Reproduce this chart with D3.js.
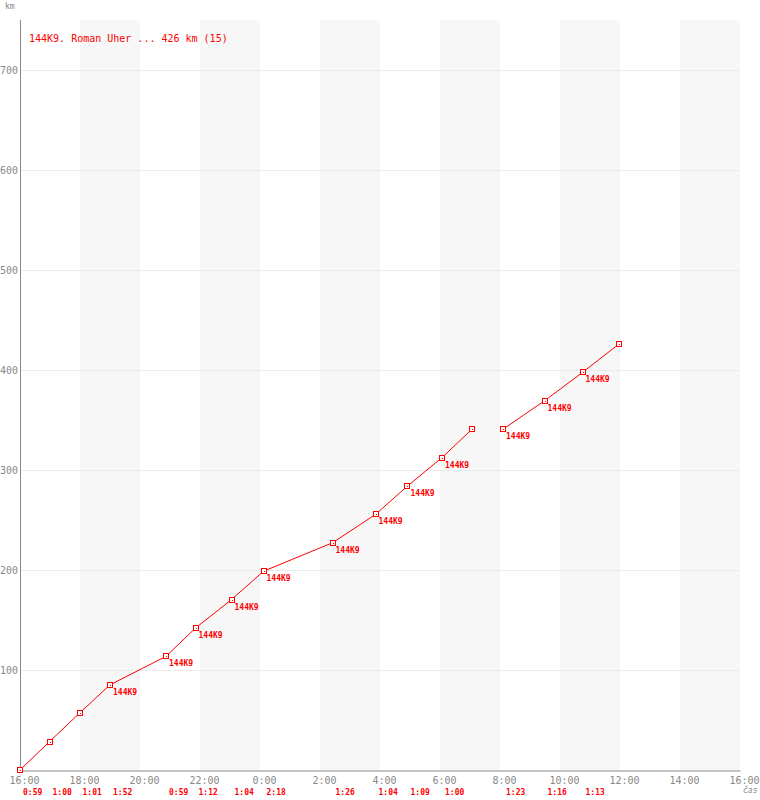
<!DOCTYPE html>
<html>
<head>
<meta charset="utf-8">
<script src="https://cdn.jsdelivr.net/npm/d3@7"></script>
<style>
  body { margin: 0; background: #fff; }
  text { font-family: "DejaVu Sans Mono", monospace; }
</style>
</head>
<body>
<div id="app"></div>
<script>
// finish time of each lap (start at 16:00), and km at that point
const times = ['16:00','16:59','17:59','19:00','20:52','21:51','23:03','0:07','2:25','3:51','4:55','6:04','7:04','8:06','9:29','10:45','11:58']
const km = [0, 28.4, 56.8, 85.2, 113.6, 142, 170.4, 198.8, 227.2, 255.6, 284, 312.4, 340.8, 340.8, 369.2, 397.6, 426]
const segment = [0,0,0,0,0,0,0,0,0,0,0,0,0,1,1,1,1]
const labeled = [0,0,0,1,1,1,1,1,1,1,1,1,0,1,1,1,0]
// lap durations, drawn under the axis at the lap start point
const lapStart = [0,1,2,3,4,5,6,7,8,9,10,11,13,14,15]
const lapTimes = ['0:59','1:00','1:01','1:52','0:59','1:12','1:04','2:18','1:26','1:04','1:09','1:00','1:23','1:16','1:13']
const yTicks = [100,200,300,400,500,600,700]
const title = '144K9. Roman Uher ... 426 km (15)'
const teamName = '144K9'

const toDate = s => {
  const [h, m] = s.split(':').map(Number)
  return new Date(2000, 0, h < 16 ? 2 : 1, h, m)
}

const t0 = new Date(2000, 0, 1, 16, 0)
const t1 = new Date(2000, 0, 2, 16, 0)

const x = d3.scaleTime().domain([t0, t1]).range([20, 740])
const y = d3.scaleLinear().domain([0, 750]).range([770, 20])

const svg = d3.select('#app').append('svg').attr('width', 760).attr('height', 800)

// alternating stripes every 2 hours
const stripes = d3.timeHour.every(2).range(t0, t1).filter((d, i) => i % 2 == 1)
svg.selectAll('rect.stripe').data(stripes).enter().append('rect')
  .attr('class', 'stripe')
  .attr('x', d => x(d))
  .attr('y', y(750))
  .attr('width', d => x(d3.timeHour.offset(d, 2)) - x(d))
  .attr('height', y(0) - y(750))
  .attr('fill', '#f7f7f7')

// horizontal grid
svg.selectAll('line.grid').data(yTicks).enter().append('line')
  .attr('class', 'grid')
  .attr('x1', x(t0)).attr('x2', x(t1))
  .attr('y1', d => y(d) + 0.5).attr('y2', d => y(d) + 0.5)
  .attr('stroke', '#ebebeb')

// axes
const xAxis = d3.axisBottom(x)
  .tickValues(d3.timeHour.every(2).range(t0, d3.timeMinute.offset(t1, 1)))
  .tickFormat(d3.timeFormat('%-H:%M'))
  .tickSize(0).tickSizeOuter(0).tickPadding(6)
const gx = svg.append('g').attr('transform', 'translate(0,770.5)').call(xAxis)
gx.select('.domain').attr('stroke', '#888')
gx.selectAll('text').attr('fill', '#888').attr('font-size', 10)
  .attr('font-family', '"DejaVu Sans Mono", monospace').attr('dx', 4)

svg.append('line')
  .attr('x1', 20.5).attr('x2', 20.5).attr('y1', y(750)).attr('y2', y(0))
  .attr('stroke', '#888')

svg.selectAll('text.ylab').data(yTicks).enter().append('text')
  .attr('class', 'ylab')
  .attr('x', 18).attr('y', d => y(d) + 4)
  .attr('text-anchor', 'end').attr('font-size', 10).attr('fill', '#888')
  .text(d => d)

svg.append('text').attr('x', 5).attr('y', 9).attr('font-size', 8).attr('fill', '#888').text('km')
svg.append('text').attr('x', 743).attr('y', 793).attr('font-size', 8).attr('fill', '#888')
  .attr('font-style', 'italic').text('čas')

// data
const pts = times.map((t, i) => ({ t: toDate(t), km: km[i], seg: segment[i], lab: labeled[i] }))
const line = d3.line().x(d => x(d.t)).y(d => y(d.km))

d3.groups(pts, d => d.seg).forEach(([k, arr]) => {
  svg.append('path').datum(arr)
    .attr('d', line)
    .attr('fill', 'none').attr('stroke', 'red').attr('stroke-width', 1)
})

const mk = svg.selectAll('g.mark').data(pts).enter().append('g')
  .attr('class', 'mark')
  .attr('transform', d => `translate(${Math.round(x(d.t))},${Math.round(y(d.km))})`)
mk.append('rect').attr('x', -2.5).attr('y', -2.5).attr('width', 5).attr('height', 5)
  .attr('fill', 'white').attr('stroke', 'red')
mk.append('rect').attr('x', 0).attr('y', 0).attr('width', 1).attr('height', 1).attr('fill', 'red')

svg.selectAll('text.plab').data(pts.filter(d => d.lab)).enter().append('text')
  .attr('class', 'plab')
  .attr('x', d => x(d.t) + 3).attr('y', d => y(d.km) + 10)
  .attr('font-size', 8).attr('font-weight', 'bold').attr('fill', 'red')
  .text(teamName)

svg.selectAll('text.lap').data(lapTimes).enter().append('text')
  .attr('class', 'lap')
  .attr('x', (d, i) => x(pts[lapStart[i]].t) + 3).attr('y', 795)
  .attr('font-size', 8).attr('font-weight', 'bold').attr('fill', 'red')
  .text(d => d)

svg.append('text').attr('x', 29).attr('y', 42).attr('font-size', 10).attr('fill', 'red').text(title)
</script>
</body>
</html>
